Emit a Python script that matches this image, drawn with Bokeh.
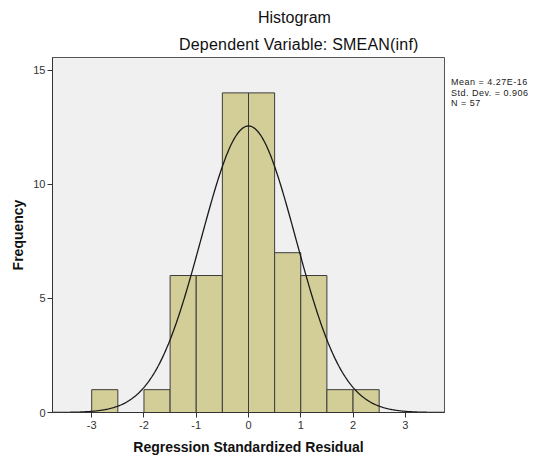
import numpy as np
from bokeh.plotting import figure
from bokeh.layouts import row, column
from bokeh.models import Range1d, FixedTicker, ColumnDataSource, Div
from bokeh.embed import file_html
from bokeh.resources import INLINE

# ---- data ----
bin_edges = [-3.0, -2.5, -2.0, -1.5, -1.0, -0.5, 0.0, 0.5, 1.0, 1.5, 2.0, 2.5]
counts = [1, 0, 1, 6, 6, 14, 14, 7, 6, 1, 1]
stat_mean = 4.27e-16
stat_sd = 0.906
stat_n = 57
x_ticks = [-3, -2, -1, 0, 1, 2, 3]
y_ticks = [0, 5, 10, 15]
title_text = "Histogram"
subtitle_text = "Dependent Variable: SMEAN(inf)"
x_label = "Regression Standardized Residual"
y_label = "Frequency"
stats_lines = ["Mean = 4.27E-16", "Std. Dev. = 0.906", "N = 57"]

FONT = "Liberation Sans"
X0, X1 = -3.75, 3.75
Y0, Y1 = 0, 15.55
TITLE_H = 55
TOP, FW, FH, BOTTOM, LEFT, RIGHT = 2, 392, 355, 46, 52, 4
PLOT_H = TOP + FH + BOTTOM
SIDE_W = 534 - (LEFT + FW + RIGHT)

p = figure(frame_width=FW, frame_height=FH, output_backend="svg", toolbar_location=None,
           x_range=Range1d(X0, X1), y_range=Range1d(Y0, Y1),
           min_border_left=LEFT, min_border_right=RIGHT, min_border_top=TOP,
           min_border_bottom=BOTTOM)
p.background_fill_color = "#F0F0F0"
p.border_fill_color = "white"
p.outline_line_color = "#555555"
p.outline_line_width = 1
p.grid.visible = False

# bars
src = ColumnDataSource(dict(left=bin_edges[:-1], right=bin_edges[1:],
                            top=counts, bottom=[0] * len(counts)))
p.quad(left="left", right="right", top="top", bottom="bottom", source=src,
       fill_color="#D3CE97", line_color="#3C3C3C", line_width=1)

# normal curve from the stats
bw = bin_edges[1] - bin_edges[0]
xs = np.linspace(X0, X1, 400)
ys = stat_n * bw * np.exp(-0.5 * ((xs - stat_mean) / stat_sd) ** 2) / (stat_sd * np.sqrt(2 * np.pi))
p.line(xs, ys, line_color="#1A1A1A", line_width=1.3)

# axes
for ax in (p.xaxis[0], p.yaxis[0]):
    ax.axis_line_color = "#333333"
    ax.major_tick_line_color = "#333333"
    ax.minor_tick_line_color = None
    ax.major_tick_in = 0
    ax.major_tick_out = 5
    ax.major_label_text_font = FONT
    ax.major_label_text_font_size = "11px"
    ax.major_label_text_color = "#333333"
    ax.axis_label_text_font = FONT
    ax.axis_label_text_font_size = "14px"
    ax.axis_label_text_font_style = "bold"
    ax.axis_label_text_color = "#111111"

p.xaxis[0].ticker = FixedTicker(ticks=x_ticks)
p.xaxis[0].major_label_overrides = {t: str(t) for t in x_ticks}
p.yaxis[0].ticker = FixedTicker(ticks=y_ticks)
p.xaxis[0].axis_label = x_label
p.yaxis[0].axis_label = y_label
p.xaxis[0].major_label_standoff = 3
p.xaxis[0].axis_label_standoff = 7
p.yaxis[0].major_label_standoff = 2
p.yaxis[0].axis_label_standoff = 4

# titles (HTML block above the plot)
title_html = (
    '<div style="position:relative; width:534px; height:%dpx; '
    'font-family:\'Liberation Sans\', Arial, sans-serif; font-size:16px; line-height:16px; color:#111111;">'
    '<div style="position:absolute; left:258px; top:10px; white-space:nowrap;">%s</div>'
    '<div style="position:absolute; left:179px; top:37px; white-space:nowrap; letter-spacing:0.2px;">%s</div>'
    '</div>' % (TITLE_H, title_text, subtitle_text)
)
titles = Div(text=title_html, width=534, height=TITLE_H, margin=0)

# side panel with the stats text
stats_html = (
    '<div style="padding:22px 0 0 3px; font-family:\'Liberation Sans\', Arial, sans-serif; '
    'font-size:9px; line-height:10.5px; letter-spacing:0.5px; color:#222222; white-space:nowrap;">'
    + "<br>".join(stats_lines) + "</div>"
)
side = Div(text=stats_html, width=SIDE_W, height=PLOT_H, margin=0)

layout = column(titles, row(p, side, spacing=0), spacing=0)
open("out.html", "w").write(file_html(layout, INLINE))
